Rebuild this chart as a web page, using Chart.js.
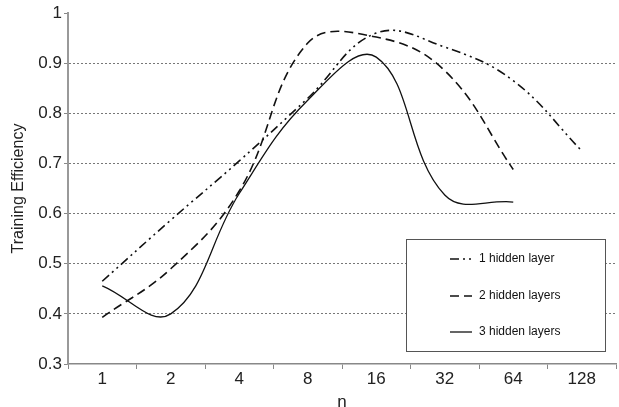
<!DOCTYPE html>
<html>
<head>
<meta charset="utf-8">
<script src="https://cdn.jsdelivr.net/npm/chart.js@4"></script>
<style>
  html, body { margin: 0; padding: 0; background: #fff; }
  #wrap { width: 619px; height: 407px; }
</style>
</head>
<body>
<div id="wrap"><canvas id="effChart" width="619" height="407"></canvas></div>
<script>
// number of neurons n (log2 spaced categories)
const nLabels = ['1', '2', '4', '8', '16', '32', '64', '128'];
const oneHidden = [0.465, 0.587, 0.705, 0.83, 0.96, 0.932, 0.865, 0.725];
const twoHidden = [0.393, 0.49, 0.645, 0.94, 0.952, 0.885, 0.688, null];
const threeHidden = [0.456, 0.40, 0.64, 0.826, 0.912, 0.637, 0.623, null];
const yTicks = [0.3, 0.4, 0.5, 0.6, 0.7, 0.8, 0.9, 1];

const FONT = '"Liberation Sans", Arial, sans-serif';

// legend box drawn inside the plot, like the original
const boxLegend = {
    id: 'boxLegend',
    afterDraw(chart) {
        const ctx = chart.ctx;
        const x = 406, y = 239, w = 199, h = 112;
        ctx.save();
        ctx.fillStyle = '#fff';
        ctx.fillRect(x, y, w, h);
        ctx.strokeStyle = '#555';
        ctx.lineWidth = 1;
        ctx.strokeRect(x + 0.5, y + 0.5, w, h);
        const rows = [259, 296, 332];
        chart.data.datasets.forEach(function(ds, i) {
            const ry = rows[i];
            ctx.beginPath();
            ctx.setLineDash(ds.borderDash || []);
            ctx.strokeStyle = ds.borderColor;
            ctx.lineWidth = ds.borderWidth;
            ctx.moveTo(450, ry);
            ctx.lineTo(472, ry);
            ctx.stroke();
            ctx.setLineDash([]);
            ctx.fillStyle = '#111';
            ctx.font = '12px ' + FONT;
            ctx.textBaseline = 'middle';
            ctx.textAlign = 'left';
            ctx.fillText(ds.label, 479, ry);
        });
        ctx.restore();
    }
};

const ctx = document.getElementById('effChart').getContext('2d');

new Chart(ctx, {
    type: 'line',
    data: {
        labels: nLabels,
        datasets: [
            {
                label: '1 hidden layer',
                data: oneHidden,
                borderColor: '#111',
                borderWidth: 1.6,
                borderDash: [9, 4, 2, 4, 2, 4],
                pointRadius: 0,
                fill: false,
                tension: 0.4
            },
            {
                label: '2 hidden layers',
                data: twoHidden,
                borderColor: '#111',
                borderWidth: 1.6,
                borderDash: [9, 5],
                pointRadius: 0,
                fill: false,
                tension: 0.4
            },
            {
                label: '3 hidden layers',
                data: threeHidden,
                borderColor: '#111',
                borderWidth: 1.3,
                pointRadius: 0,
                fill: false,
                tension: 0.4
            }
        ]
    },
    options: {
        responsive: false,
        animation: false,
        layout: { padding: { top: 13, right: 3, left: 0, bottom: 0 } },
        plugins: {
            legend: { display: false },
            tooltip: { enabled: false }
        },
        scales: {
            x: {
                offset: true,
                grid: {
                    offset: true,
                    drawOnChartArea: false,
                    drawTicks: true,
                    tickLength: 5,
                    tickColor: '#888',
                    tickWidth: 1
                },
                border: { color: '#888', width: 1.5 },
                ticks: {
                    color: '#222',
                    font: { family: FONT, size: 17 },
                    padding: 0,
                    maxRotation: 0
                },
                title: {
                    display: true,
                    text: 'n',
                    color: '#222',
                    font: { family: FONT, size: 17, lineHeight: 0.6 },
                    padding: 0
                },
                afterFit: function(scale) { scale.height = 43; }
            },
            y: {
                min: 0.3,
                max: 1,
                afterBuildTicks: function(scale) {
                    scale.ticks = yTicks.map(function(v) { return { value: v }; });
                },
                grid: {
                    color: function(c) {
                        return (c.tick && (c.tick.value === 1 || c.tick.value === 0.3)) ? 'rgba(0,0,0,0)' : '#777';
                    },
                    tickColor: '#888',
                    tickLength: 4,
                    lineWidth: 1
                },
                border: { color: '#999', width: 2, dash: [2, 2] },
                ticks: {
                    color: '#222',
                    font: { family: FONT, size: 17 },
                    padding: 2,
                    callback: function(v) { return String(Math.round(v * 10) / 10); }
                },
                title: {
                    display: true,
                    text: 'Training Efficiency',
                    color: '#222',
                    font: { family: FONT, size: 16 },
                    padding: { top: 9, bottom: 0 }
                },
                afterFit: function(scale) { scale.width = 68; }
            }
        }
    },
    plugins: [boxLegend]
});
</script>
</body>
</html>
